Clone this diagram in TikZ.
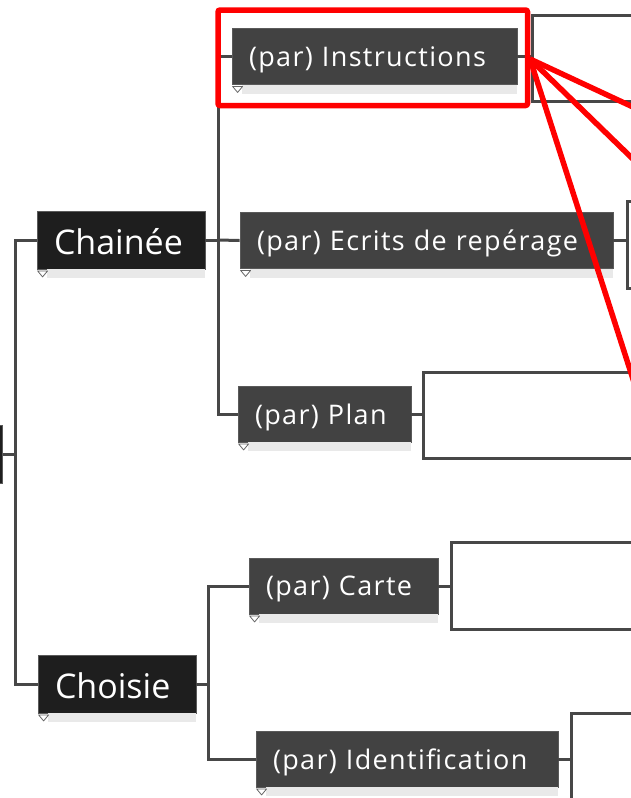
\documentclass[tikz,border=0pt]{standalone}
\usepackage{fontspec}
\setmainfont{Open Sans}
\newfontfamily\smallf[LetterSpace=5]{Open Sans}
\newcommand{\dropS}[1]{\raisebox{-3pt}[\height][\depth]{#1}}
\newcommand{\dropB}[1]{\raisebox{-2pt}[\height][\depth]{#1}}
\definecolor{bigc}{HTML}{1E1E1E}
\definecolor{smallc}{HTML}{424242}
\definecolor{edgec}{HTML}{5A5A5A}
\definecolor{linec}{HTML}{474747}
\definecolor{shadc}{HTML}{E9E9E9}
\definecolor{hired}{HTML}{FF0000}
\tikzset{
  bbox/.style={fill=bigc, draw=edgec, line width=0.8, text=white,
    font=\fontsize{34}{40}\selectfont, inner xsep=17, inner ysep=0,
    minimum height=58, align=left},
  sbox/.style={fill=smallc, draw=edgec, line width=0.8, text=white,
    font=\smallf\fontsize{27}{32}\selectfont, inner xsep=17, inner ysep=0,
    minimum height=56, align=left},
  conn/.style={draw=linec, line width=3},
  shad/.style={fill=shadc},
  tri/.style={draw=gray!80!black, fill=white, line width=0.8, line join=round},
  hilite/.style={draw=hired, line width=5.5},
}
\begin{document}
\begin{tikzpicture}[x=1pt,y=-1pt]
\useasboundingbox (0,0) rectangle (631,798);
\clip (0,0) rectangle (631,798);

% nodes
\node[bbox, minimum width=60, anchor=east] (root) at (3,454) {};
\node[bbox, text width=134] (chainee) at (121,240) {\dropB{Chainée}};
\node[bbox, text width=124] (choisie) at (117,684) {\dropB{Choisie}};
\node[sbox, text width=251] (instr) at (374.5,56.5) {\dropS{(par) Instructions}};
\node[sbox, text width=339] (ecrits) at (426.5,240.5) {\dropS{(par) Ecrits de repérage}};
\node[sbox, text width=139] (plan) at (324.5,414) {\dropS{(par) Plan}};
\node[sbox, text width=155] (carte) at (343.5,586) {\dropS{(par) Carte}};
\node[sbox, text width=268] (ident) at (407,759) {\dropS{(par) Identification}};

% shadows and markers
\foreach \n in {chainee,choisie,instr,ecrits,plan,carte,ident}{
  \fill[shad] ([xshift=10]\n.south west) rectangle ([yshift=-9]\n.south east);
  \draw[tri] ([xshift=1,yshift=-1.5]\n.south west) -- ++(10,0) -- ++(-5,6) -- cycle;
}

% trunk
\coordinate (t) at (15,454);
\draw[conn] (root.east) -- (t);
\draw[conn] (chainee.west) -| (t) |- (choisie.west);

% chainee branch
\coordinate (c1) at (218,240);
\draw[conn] (chainee.east) -- (c1);
\draw[conn] (instr.west) -| (c1) |- (plan.west);
\draw[conn] (c1) -- (ecrits.west);

% choisie branch
\coordinate (c2) at (208,684);
\draw[conn] (choisie.east) -- (c2);
\draw[conn] (carte.west) -| (c2) |- (ident.west);

% brackets
\coordinate (b1) at (532,56.5);
\draw[conn] (instr.east) -- (b1);
\draw[conn] (645,15) -- (532,15) -- (532,101) -- (645,101);
\coordinate (b2) at (627,240.5);
\draw[conn] (ecrits.east) -- (b2);
\draw[conn] (645,201) -- (627,201) -- (627,288) -- (645,288);
\coordinate (b3) at (423,414);
\draw[conn] (plan.east) -- (b3);
\draw[conn] (645,372) -- (423,372) -- (423,458) -- (645,458);
\coordinate (b4) at (451,586);
\draw[conn] (carte.east) -- (b4);
\draw[conn] (645,542) -- (451,542) -- (451,629) -- (645,629);
\coordinate (b5) at (571,759);
\draw[conn] (ident.east) -- (b5);
\draw[conn] (645,713) -- (571,713) -- (571,820);

% red highlight
\draw[hilite, rounded corners=2] (218,10) rectangle (527.5,105.5);
\coordinate (rp) at (530,59);
\coordinate (r1) at (651,115.4);
\coordinate (r2) at (651,176.6);
\coordinate (r3) at (641,404);
\draw[hilite] (rp) -- (r1);
\draw[hilite] (rp) -- (r2);
\draw[hilite] (rp) -- (r3);
\end{tikzpicture}
\end{document}
